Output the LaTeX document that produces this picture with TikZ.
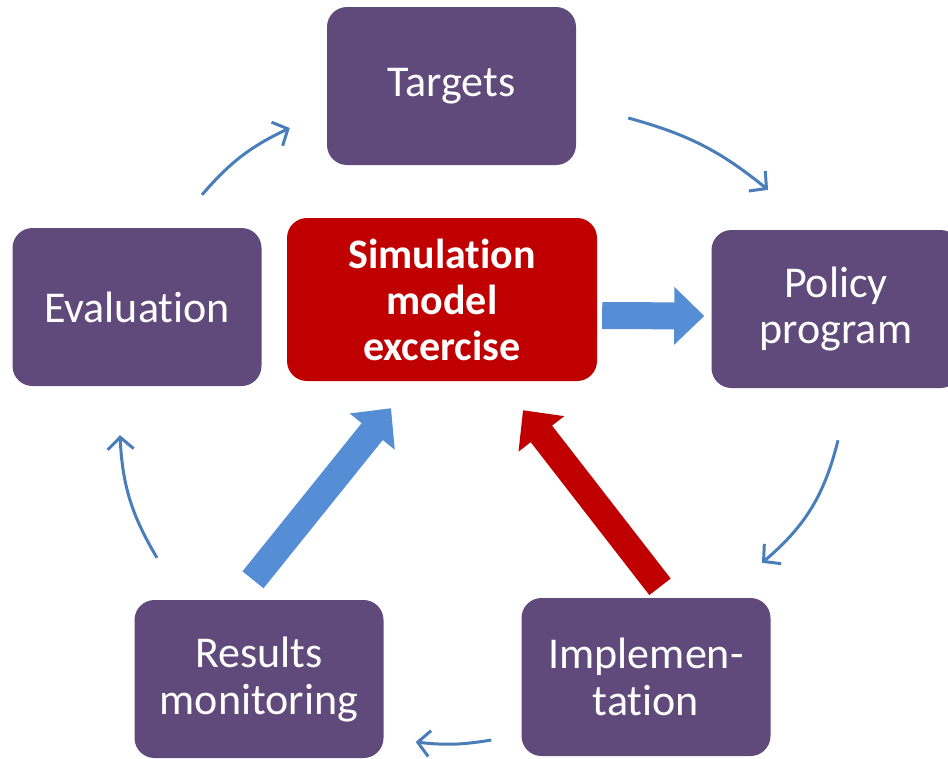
\documentclass[tikz,border=0pt]{standalone}
\usepackage{fontspec}
\setmainfont{Carlito}[Ligatures=NoCommon]
\usetikzlibrary{positioning, arrows.meta, calc}
\definecolor{boxpurple}{HTML}{604A7B}
\definecolor{simred}{HTML}{C00000}
\definecolor{bigblue}{HTML}{558ED5}
\definecolor{thinblue}{HTML}{4A7EBB}

\begin{document}
\begin{tikzpicture}[x=1pt, y=1pt,
    stage/.style={fill=boxpurple, rounded corners=20pt, minimum width=249pt, minimum height=158pt,
        text=white, align=center, font=\fontsize{44}{47}\selectfont},
    loopflow/.style={draw=thinblue, line width=3pt, -{Straight Barb[length=12pt, width=26pt]}, bend left=14},
    bigarrow/.style={line width=27pt, -{Triangle[width=56pt, length=30pt]}}]
    \useasboundingbox (0,0) rectangle (948,-758);
    \clip (0,0) rectangle (948,-758);

    % Draw the cycle of stages
    \node[stage] (tar) at (451.5,-86) {Targets};
    \node[stage] (pol) at (836,-309) {Policy\\program};
    \node[stage] (imp) at (646,-677) {Implemen-\\tation};
    \node[stage] (res) at (259,-679) {Results\\monitoring};
    \node[stage] (ev) at (137,-307) {Evaluation};

    % Draw the simulation box
    \node[fill=simred, rounded corners=20pt, minimum width=310pt, minimum height=163pt, text=white,
        align=center, font=\fontsize{42}{46}\selectfont\bfseries] (sim) at (442,-299.5)
        {Simulation\\model\\excercise};

    % Draw thin arrows around the cycle
    \draw[loopflow, bend left=12] ($(ev.north)+(65,33)$) to ($(tar.west)+(-37,-42)$);
    \draw[loopflow, bend left=12] ($(tar.east)+(52,-32)$) to ($(pol.north)+(-68,40)$);
    \draw[loopflow, bend left=18] ($(pol.south)+(2,-52)$) to ($(imp.north)+(116,35)$);
    \draw[loopflow, bend left=8] ($(imp.west)+(-30,-63)$) to ($(res.east)+(32,-63)$);
    \draw[loopflow] ($(res.north)+(-102,42)$) to ($(ev.south)+(-17,-49)$);

    % Draw thick arrows to and from the simulation
    \draw[bigarrow, bigblue] ($(sim.east)+(5,-16)$) -- ($(pol.west)+(-7,-7)$);
    \draw[bigarrow, bigblue] ($(res.north)+(-6,20)$) -- ($(sim.south)+(-51,-27)$);
    \draw[bigarrow, simred] ($(imp.north)+(14,11)$) -- ($(sim.south)+(81,-29)$);
\end{tikzpicture}
\end{document}
